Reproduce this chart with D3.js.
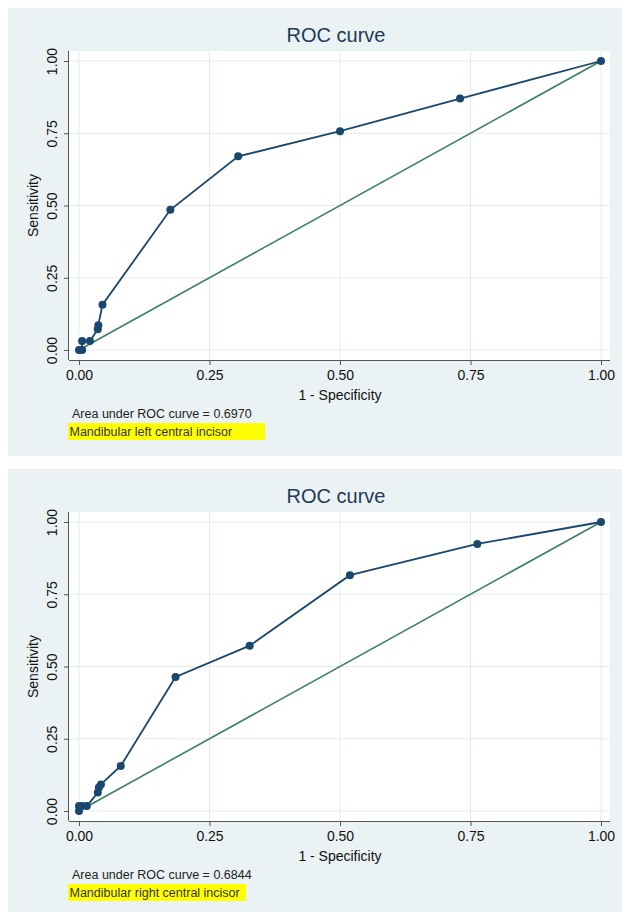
<!DOCTYPE html>
<html><head><meta charset="utf-8">
<script src="https://cdn.jsdelivr.net/npm/d3@7"></script>
<style>
html,body{margin:0;padding:0;background:#fff;}
svg{display:block;font-family:"Liberation Sans",Arial,sans-serif;}
</style></head>
<body>
<svg id="chart" width="622" height="912"></svg>
<script>
// ---- data ----
const tickValues = [0, 0.25, 0.5, 0.75, 1];
const tickLabels = ["0.00", "0.25", "0.50", "0.75", "1.00"];

const leftFPR  = [0, 0.006, 0.006, 0.021, 0.036, 0.037, 0.045, 0.175, 0.305, 0.500, 0.730, 1];
const leftTPR  = [0, 0,     0.031, 0.031, 0.072, 0.086, 0.157, 0.485, 0.670, 0.757, 0.870, 1];
const rightFPR = [0, 0,     0.006, 0.015, 0.036, 0.038, 0.042, 0.080, 0.185, 0.327, 0.519, 0.763, 1];
const rightTPR = [0, 0.017, 0.017, 0.017, 0.064, 0.081, 0.092, 0.156, 0.464, 0.572, 0.816, 0.924, 1];

const panelTitles = ["ROC curve", "ROC curve"];
const aucTexts = ["Area under ROC curve = 0.6970", "Area under ROC curve = 0.6844"];
const noteTexts = ["Mandibular left central incisor", "Mandibular right central incisor"];
const xTitle = "1 - Specificity";
const yTitle = "Sensitivity";

// ---- layout ----
const panels = [
  {top: 8,   fpr: leftFPR,  tpr: leftTPR,  boxW: 197, bgH: 448},
  {top: 469, fpr: rightFPR, tpr: rightTPR, boxW: 178, bgH: 443}
];

const svg = d3.select("#chart");
const bg = "#eaf2f3", grid = "#e4ecee", navy = "#1a476f", green = "#3d7f5f";

panels.forEach((p, i) => {
  const g = svg.append("g").attr("transform", `translate(0,${p.top})`);
  g.append("rect").attr("x", 8).attr("y", 0).attr("width", 614).attr("height", p.bgH).attr("fill", bg);

  // plot region
  const plotL = 69, plotR = 610, plotT = 43, plotB = 352;
  const x = d3.scaleLinear().domain([0, 1]).range([79, 601]);
  const y = d3.scaleLinear().domain([0, 1]).range([342, 53]);

  g.append("rect").attr("x", plotL).attr("y", plotT).attr("width", plotR - plotL).attr("height", plotB - plotT).attr("fill", "#fff");

  // grid
  g.append("g").selectAll("line").data(tickValues).join("line")
    .attr("x1", d => x(d)).attr("x2", d => x(d)).attr("y1", plotT).attr("y2", plotB)
    .attr("stroke", grid).attr("stroke-width", 1);
  g.append("g").selectAll("line").data(tickValues).join("line")
    .attr("y1", d => y(d)).attr("y2", d => y(d)).attr("x1", plotL).attr("x2", plotR)
    .attr("stroke", grid).attr("stroke-width", 1);

  // axes
  const xAxis = d3.axisBottom(x).tickValues(tickValues).tickFormat((d, k) => tickLabels[k]).tickSize(5).tickPadding(5);
  const xa = g.append("g").attr("transform", `translate(0,${plotB})`).call(xAxis);
  xa.select(".domain").attr("d", `M${plotL},0.5H${plotR}`).attr("stroke", "#555");
  xa.selectAll(".tick line").attr("stroke", "#555");
  xa.selectAll(".tick text").attr("font-size", 14).attr("fill", "#111").attr("font-family", "Liberation Sans, Arial, sans-serif");

  const yAxis = d3.axisLeft(y).tickValues(tickValues).tickFormat((d, k) => tickLabels[k]).tickSize(5).tickPadding(4);
  const ya = g.append("g").attr("transform", `translate(${plotL},0)`).call(yAxis);
  ya.select(".domain").attr("d", `M-0.5,${plotT}V${plotB}`).attr("stroke", "#555");
  ya.selectAll(".tick line").attr("stroke", "#555");
  ya.selectAll(".tick text").attr("font-size", 14).attr("fill", "#111").attr("font-family", "Liberation Sans, Arial, sans-serif")
    .attr("transform", "rotate(-90)").attr("x", 0).attr("y", -12).attr("dy", "0").attr("text-anchor", "middle");

  // reference line
  g.append("line").attr("x1", x(0)).attr("y1", y(0)).attr("x2", x(1)).attr("y2", y(1))
    .attr("stroke", green).attr("stroke-width", 1.6);

  // ROC curve
  const pts = p.fpr.map((v, k) => [v, p.tpr[k]]);
  g.append("path").datum(pts)
    .attr("d", d3.line().x(d => x(d[0])).y(d => y(d[1])))
    .attr("fill", "none").attr("stroke", navy).attr("stroke-width", 1.8);
  g.append("g").selectAll("circle").data(pts).join("circle")
    .attr("cx", d => x(d[0])).attr("cy", d => y(d[1])).attr("r", 4).attr("fill", navy);

  // titles
  g.append("text").attr("x", 336).attr("y", 34).attr("text-anchor", "middle")
    .attr("font-size", 20).attr("fill", "#1e3b58").text(panelTitles[i]);
  g.append("text").attr("x", (x(0) + x(1)) / 2).attr("y", 392).attr("text-anchor", "middle")
    .attr("font-size", 14).attr("fill", "#111").text(xTitle);
  g.append("text").attr("transform", `translate(38,${(y(0) + y(1)) / 2}) rotate(-90)`).attr("text-anchor", "middle")
    .attr("font-size", 14).attr("fill", "#111").text(yTitle);

  // notes
  g.append("text").attr("x", 72).attr("y", 410).attr("font-size", 12.5).attr("fill", "#222").text(aucTexts[i]);
  g.append("rect").attr("x", 68).attr("y", 415).attr("width", p.boxW).attr("height", 17).attr("fill", "#ffff00");
  g.append("text").attr("x", 69.5).attr("y", 428).attr("font-size", 12.5).attr("fill", "#333").text(noteTexts[i]);
});
</script>
</body></html>
